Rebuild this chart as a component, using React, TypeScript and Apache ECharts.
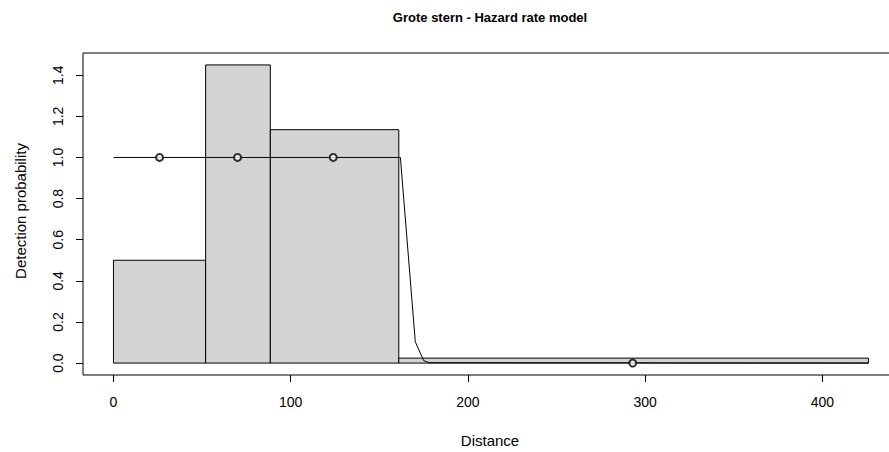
import React, { useEffect, useRef } from "react";
import * as echarts from "echarts";

// Histogram bins (distance edges) and heights
const binEdges = [0, 52, 88.5, 161, 426];
const binHeights = [0.5, 1.45, 1.135, 0.024];

// Fitted detection function (hazard rate) sampled points
const detX = [0, 161.9, 170.3, 175, 178, 426];
const detY = [1, 1, 0.104, 0.012, 0.002, 0];

// Observed points
const pointX = [26, 70, 124, 293];
const pointY = [1, 1, 1, 0];

const xTicks = [0, 100, 200, 300, 400];
const yTicks = [0, 0.2, 0.4, 0.6, 0.8, 1.0, 1.2, 1.4];

const titleText = "Grote stern - Hazard rate model";
const xTitle = "Distance";
const yTitle = "Detection probability";

const FONT = "Liberation Sans, Arial, Helvetica, sans-serif";

export default function App() {
  const ref = useRef<HTMLDivElement>(null);
  useEffect(() => {
    if (!ref.current) return;
    const chart = echarts.init(ref.current, null, { renderer: "svg" });
    const bars = binHeights.map((h, i) => [binEdges[i], binEdges[i + 1], h]);
    chart.setOption({
      animation: false,
      backgroundColor: "#fff",
      textStyle: { fontFamily: FONT },
      grid: {
        left: 83,
        top: 53,
        width: 823,
        height: 322,
        containLabel: false,
        outerBoundsMode: "none",
        show: true,
        borderColor: "#000",
        borderWidth: 1,
        backgroundColor: "transparent",
      },
      xAxis: {
        type: "value",
        min: -17.2,
        max: 447.2,
        axisLine: { show: false, onZero: false },
        splitLine: { show: false },
        axisTick: {
          show: true,
          length: 7,
          customValues: xTicks,
          lineStyle: { color: "#000", width: 1 },
        },
        axisLabel: {
          show: true,
          customValues: xTicks,
          margin: 20,
          color: "#000",
          fontSize: 14,
          fontFamily: FONT,
        },
      },
      yAxis: {
        type: "value",
        min: -0.058,
        max: 1.508,
        axisLine: { show: false, onZero: false },
        splitLine: { show: false },
        axisTick: {
          show: true,
          length: 7,
          customValues: yTicks,
          lineStyle: { color: "#000", width: 1 },
        },
        axisLabel: {
          show: true,
          customValues: yTicks,
          rotate: 90,
          margin: 18,
          color: "#000",
          fontSize: 14,
          fontFamily: FONT,
          formatter: (v: number) => v.toFixed(1),
        },
      },
      series: [
        {
          type: "custom",
          data: bars,
          z: 1,
          renderItem: (params: any, api: any) => {
            const x0 = api.value(0);
            const x1 = api.value(1);
            const h = api.value(2);
            const p0 = api.coord([x0, h]);
            const p1 = api.coord([x1, 0]);
            return {
              type: "rect",
              shape: { x: p0[0], y: p0[1], width: p1[0] - p0[0], height: p1[1] - p0[1] },
              style: { fill: "#d3d3d3", stroke: "#000", lineWidth: 1 },
            };
          },
        },
        {
          type: "line",
          data: detX.map((x, i) => [x, detY[i]]),
          symbol: "none",
          z: 2,
          lineStyle: { color: "#000", width: 1 },
        },
        {
          type: "scatter",
          data: pointX.map((x, i) => [x, pointY[i]]),
          symbol: "emptyCircle",
          symbolSize: 7,
          z: 3,
          itemStyle: { color: "#000", borderColor: "#000", borderWidth: 1 },
        },
      ],
      graphic: [
        {
          type: "text",
          x: 490,
          y: 17,
          style: {
            text: titleText,
            fontSize: 13,
            fontWeight: "bold",
            fontFamily: FONT,
            fill: "#000",
            textAlign: "center",
            textVerticalAlign: "middle",
          },
        },
        {
          type: "text",
          x: 490,
          y: 440,
          style: {
            text: xTitle,
            fontSize: 15,
            fontFamily: FONT,
            fill: "#000",
            textAlign: "center",
            textVerticalAlign: "middle",
          },
        },
        {
          type: "text",
          x: 20,
          y: 211,
          rotation: Math.PI / 2,
          style: {
            text: yTitle,
            fontSize: 15,
            fontFamily: FONT,
            fill: "#000",
            textAlign: "center",
            textVerticalAlign: "middle",
          },
        },
      ],
    });
    return () => chart.dispose();
  }, []);
  return <div ref={ref} style={{ width: 889, height: 452, position: "absolute", left: 0, top: 0 }} />;
}
